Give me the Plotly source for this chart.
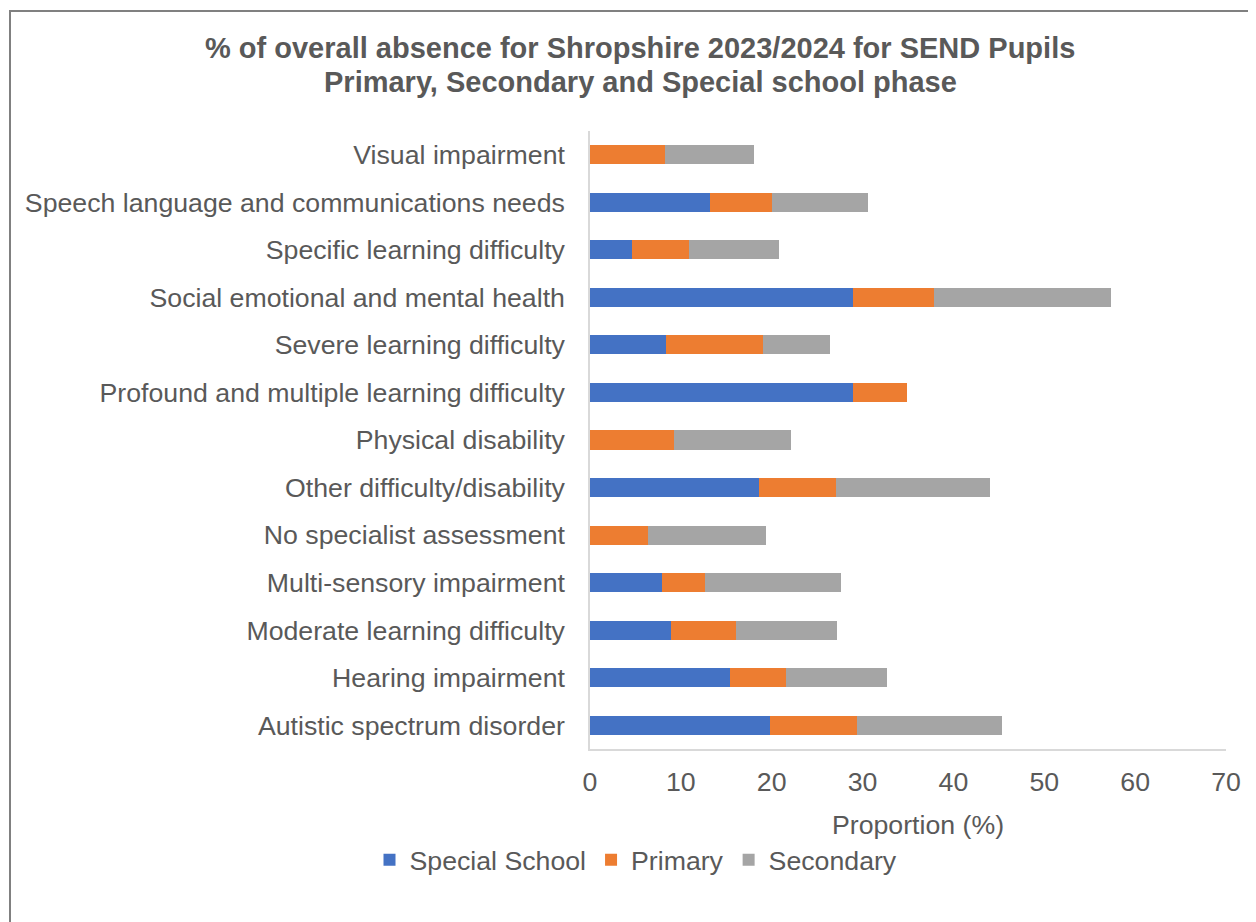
import plotly.graph_objects as go

categories = [
    "Autistic spectrum disorder",
    "Hearing impairment",
    "Moderate learning difficulty",
    "Multi-sensory impairment",
    "No specialist assessment",
    "Other difficulty/disability",
    "Physical disability",
    "Profound and multiple learning difficulty",
    "Severe learning difficulty",
    "Social emotional and mental health",
    "Specific learning difficulty",
    "Speech language and communications needs",
    "Visual impairment",
]
special_school = [19.8, 15.4, 8.9, 7.9, None, 18.6, None, 28.9, 8.4, 28.9, 4.6, 13.2, None]
primary = [9.6, 6.2, 7.2, 4.8, 6.4, 8.5, 9.2, 6.0, 10.6, 9.0, 6.3, 6.8, 8.3]
secondary = [16.0, 11.1, 11.1, 14.9, 13.0, 16.9, 12.9, None, 7.4, 19.4, 9.9, 10.6, 9.7]
x_ticks = [0, 10, 20, 30, 40, 50, 60, 70]

OFF = 8  # page body margin
W, H = 1256, 922
ML, MT = 590 - OFF, 131 - OFF
PW, PH = 636, 618
MR = W - ML - PW
MB = H - MT - PH
TXT = "#595959"
FONT = "Liberation Sans, Arial, sans-serif"
FS = 26.7


def px_x(p):
    return (p - OFF - ML) / PW


def px_y(p):
    return (H - MB - (p - OFF)) / PH


fig = go.Figure()
for name, vals, col in [("Special School", special_school, "#4472C4"),
                        ("Primary", primary, "#ED7D31"),
                        ("Secondary", secondary, "#A5A5A5")]:
    fig.add_trace(go.Bar(y=categories, x=vals, name=name, orientation="h",
                         marker=dict(color=col, line=dict(width=0))))

fig.update_layout(
    width=W, height=H,
    margin=dict(l=ML, r=MR, t=MT, b=MB),
    barmode="stack", bargap=0.6,
    paper_bgcolor="white", plot_bgcolor="white",
    font=dict(family=FONT, color=TXT, size=FS),
    xaxis=dict(
        range=[0, 70], tickvals=x_ticks, showgrid=False, zeroline=False,
        showline=True, linecolor="#D9D9D9", linewidth=1.5,
        ticks="", ticklabelstandoff=8,
        tickfont=dict(size=FS, color=TXT),
        fixedrange=True,
    ),
    yaxis=dict(
        categoryorder="array", categoryarray=categories,
        showgrid=False, zeroline=False,
        showline=True, linecolor="#D9D9D9", linewidth=1.5,
        ticks="", ticklabelstandoff=18,
        tickfont=dict(size=FS, color=TXT),
        fixedrange=True,
    ),
    legend=dict(
        orientation="h", x=px_x(636), xanchor="center",
        y=px_y(860), yanchor="middle",
        font=dict(size=FS, color=TXT), traceorder="normal",
        itemwidth=30,
    ),
    annotations=[
        dict(text="<b>% of overall absence for Shropshire 2023/2024 for SEND Pupils</b>",
             xref="paper", yref="paper", x=px_x(640), y=px_y(48),
             xanchor="center", yanchor="middle", showarrow=False,
             font=dict(size=29, color=TXT, family=FONT)),
        dict(text="<b>Primary, Secondary and Special school phase</b>",
             xref="paper", yref="paper", x=px_x(640), y=px_y(82),
             xanchor="center", yanchor="middle", showarrow=False,
             font=dict(size=29, color=TXT, family=FONT)),
        dict(text="Proportion (%)",
             xref="paper", yref="paper", x=px_x(918), y=px_y(825),
             xanchor="center", yanchor="middle", showarrow=False,
             font=dict(size=FS, color=TXT, family=FONT)),
    ],
    shapes=[dict(type="rect", xref="paper", yref="paper",
                 x0=px_x(10), x1=px_x(W + 40), y0=px_y(11), y1=px_y(H + 40),
                 line=dict(color="#808080", width=2), fillcolor="rgba(0,0,0,0)",
                 layer="below")],
)

fig.write_html("out.html")
